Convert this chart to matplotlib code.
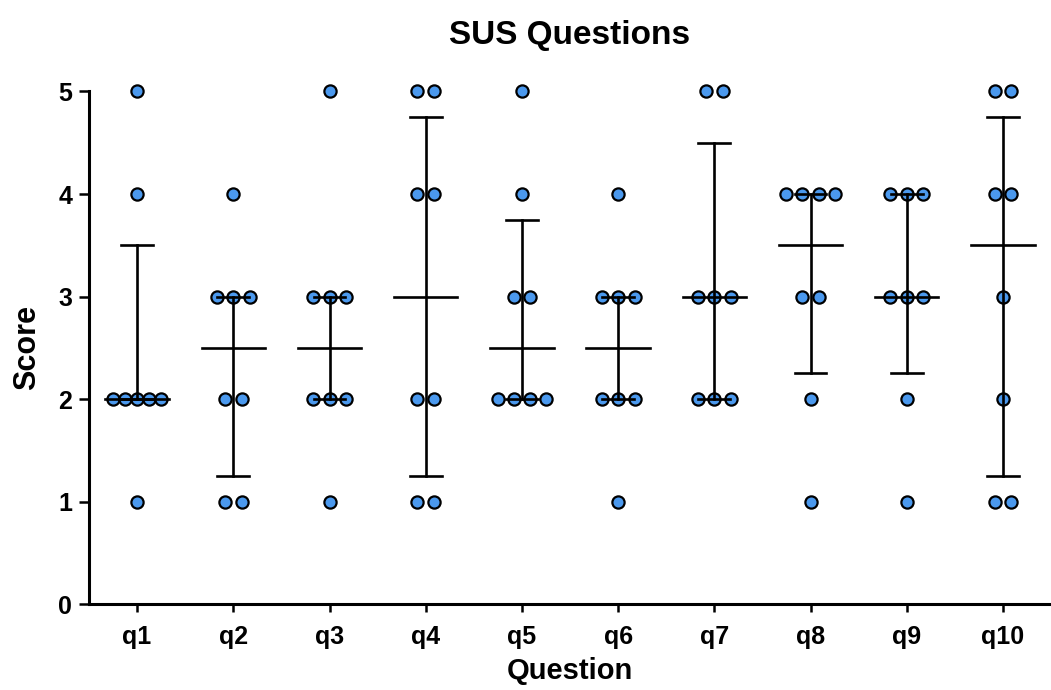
import numpy as np
import matplotlib
matplotlib.use("Agg")
import matplotlib.pyplot as plt

# responses per SUS question (8 participants, 1-5 scale)
questions = ["q1", "q2", "q3", "q4", "q5", "q6", "q7", "q8", "q9", "q10"]
q1 = [5, 4, 2, 2, 2, 2, 2, 1]
q2 = [4, 3, 3, 3, 2, 2, 1, 1]
q3 = [5, 3, 3, 3, 2, 2, 2, 1]
q4 = [5, 5, 4, 4, 2, 2, 1, 1]
q5 = [5, 4, 3, 3, 2, 2, 2, 2]
q6 = [4, 3, 3, 3, 2, 2, 2, 1]
q7 = [5, 5, 3, 3, 3, 2, 2, 2]
q8 = [4, 4, 4, 4, 3, 3, 2, 1]
q9 = [4, 4, 4, 3, 3, 3, 2, 1]
q10 = [5, 5, 4, 4, 3, 2, 1, 1]
responses = [q1, q2, q3, q4, q5, q6, q7, q8, q9, q10]

DOT_COLOR = "#4B99EE"
STEP = 0.172      # horizontal gap between tied points
MAX_SPREAD = 0.5  # widest a row of tied points may get

plt.rcParams["font.family"] = ["Liberation Sans", "DejaVu Sans"]
plt.rcParams["font.weight"] = "bold"

fig = plt.figure(figsize=(10.51, 6.9), dpi=100)
ax = fig.add_axes([0.0847, 0.1246, 0.9153, 0.7428])

for i, vals in enumerate(responses):
    x0 = i + 1
    vals = np.array(vals)
    # scatter tied values side by side around the column centre
    for v in np.unique(vals):
        n = np.sum(vals == v)
        step = STEP if (n - 1) * STEP <= MAX_SPREAD else MAX_SPREAD / (n - 1)
        offs = (np.arange(n) - (n - 1) / 2) * step
        ax.plot(x0 + offs, np.full(n, v), "o", ms=8.8, mfc=DOT_COLOR, mec="black",
                mew=1.6, clip_on=False, zorder=2)

    # median with interquartile range
    q_lo, med, q_hi = np.percentile(vals, [25, 50, 75], method="weibull")
    ax.plot([x0 - 0.33, x0 + 0.33], [med, med], color="black", lw=1.9, zorder=3)
    ax.plot([x0, x0], [q_lo, q_hi], color="black", lw=1.9, zorder=3)
    for q in (q_lo, q_hi):
        ax.plot([x0 - 0.165, x0 + 0.165], [q, q], color="black", lw=1.9, zorder=3)

ax.set_xlim(0.5, 10.5)
ax.set_ylim(0, 5)
ax.set_xticks(range(1, len(questions) + 1))
ax.set_xticklabels(questions)
ax.set_yticks(range(0, 6))

for side in ("top", "right"):
    ax.spines[side].set_visible(False)
for side in ("left", "bottom"):
    ax.spines[side].set_linewidth(2.2)
ax.tick_params(axis="both", width=1.8, length=6, labelsize=18)
ax.tick_params(axis="x", pad=9)
ax.tick_params(axis="y", length=7, pad=5)

ax.set_xlabel("Question", fontsize=21, fontweight="bold", labelpad=6)
ax.set_ylabel("Score", fontsize=22, fontweight="bold", labelpad=12)
ax.set_title("SUS Questions", fontsize=24, fontweight="bold", pad=34)

fig.savefig("out.png", dpi=100)
